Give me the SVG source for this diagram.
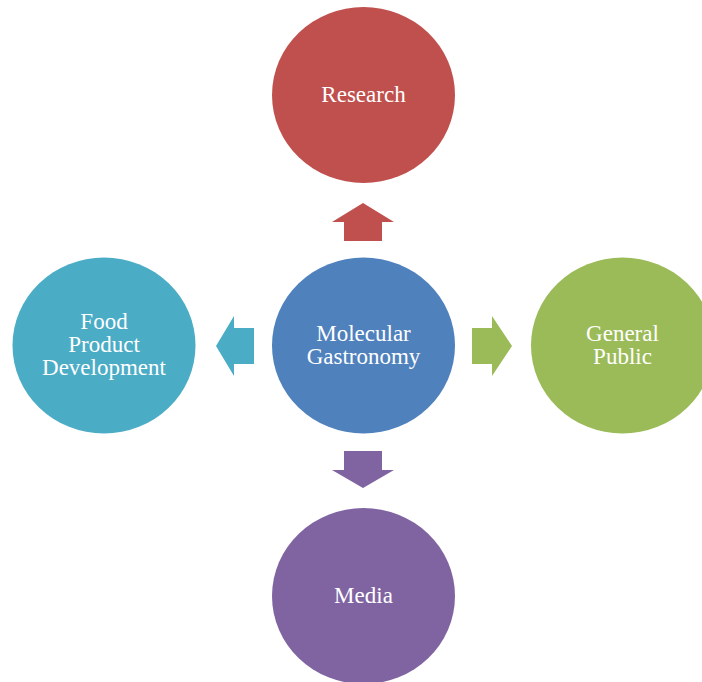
<svg xmlns="http://www.w3.org/2000/svg" width="702" height="682" viewBox="0 0 702 682">
<style>
text{font-family:"Liberation Serif","Times New Roman",serif;font-size:23px;fill:#ffffff;text-anchor:middle}
</style>
<rect width="702" height="682" fill="#ffffff"/>
<g id="connectors">
<polygon points="363,203 394,222 382,222 382,241 344,241 344,222 332,222" fill="#C0504D"/>
<polygon points="216,346 234,316 234,328 254,328 254,364 234,364 234,376" fill="#4BACC6"/>
<polygon points="512,346 492,316 492,328 472,328 472,364 492,364 492,376" fill="#9BBB59"/>
<polygon points="363,488 394,470 382,470 382,451 344,451 344,470 332,470" fill="#8064A2"/>
</g>
<g id="research">
<ellipse cx="363.5" cy="95" rx="91.5" ry="88" fill="#C0504D"/>
<text x="363.5" y="102">Research</text>
</g>
<g id="molecular-gastronomy">
<ellipse cx="363.5" cy="345.5" rx="91.5" ry="88" fill="#4F81BD"/>
<text x="363.5" y="341">Molecular</text>
<text x="363.5" y="364">Gastronomy</text>
</g>
<g id="food-product-development">
<ellipse cx="104" cy="345.5" rx="91.5" ry="88" fill="#4BACC6"/>
<text x="104" y="329">Food</text>
<text x="104" y="352">Product</text>
<text x="104" y="375">Development</text>
</g>
<g id="general-public">
<ellipse cx="622.5" cy="345.5" rx="91.5" ry="88" fill="#9BBB59"/>
<text x="622.5" y="341">General</text>
<text x="622.5" y="364">Public</text>
</g>
<g id="media">
<ellipse cx="363.5" cy="596" rx="91.5" ry="88" fill="#8064A2"/>
<text x="363.5" y="603">Media</text>
</g>
</svg>
